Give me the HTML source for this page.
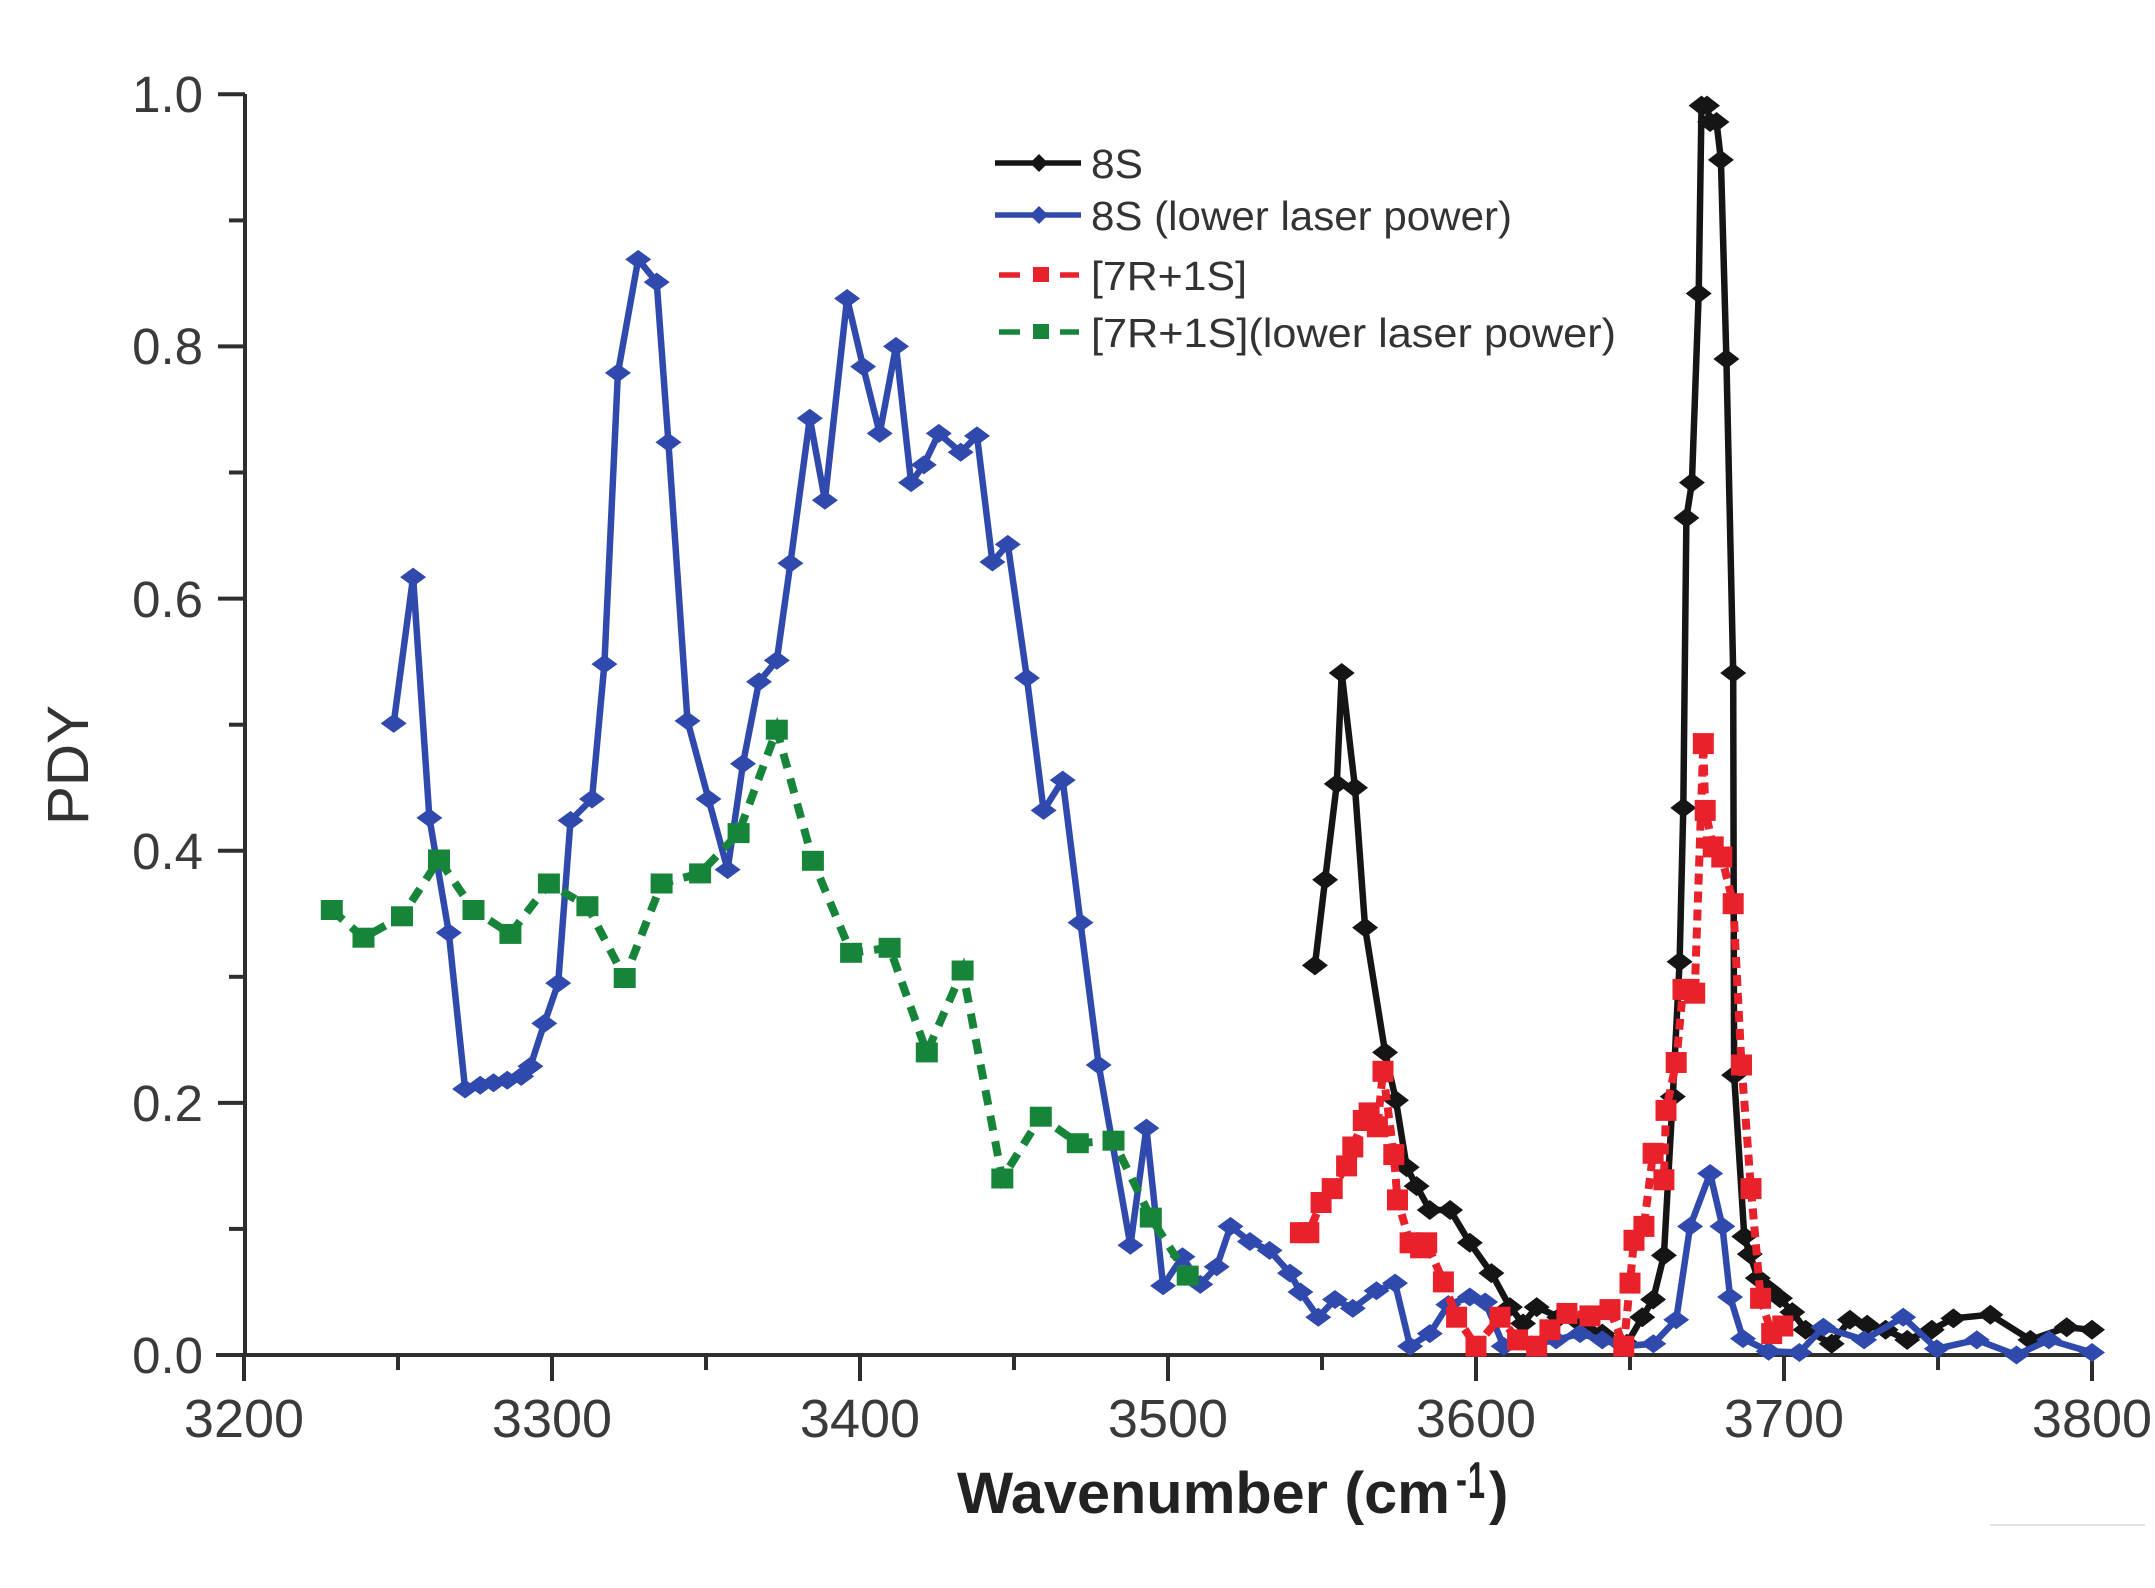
<!DOCTYPE html>
<html><head><meta charset="utf-8"><style>
html,body{margin:0;padding:0;background:#fff;}
svg{display:block;}
text{font-family:"Liberation Sans",Arial,sans-serif;}
</style></head><body>
<svg xmlns="http://www.w3.org/2000/svg" width="2155" height="1588" viewBox="0 0 2155 1588">
<defs>
<marker id="mk" markerUnits="userSpaceOnUse" markerWidth="30" markerHeight="24" refX="15" refY="12" overflow="visible"><path d="M15,2 L28,12 L15,22 L2,12Z" fill="#151515"/></marker>
<marker id="mbl" markerUnits="userSpaceOnUse" markerWidth="28" markerHeight="22" refX="14" refY="11" overflow="visible"><path d="M14,1.5 L27,11 L14,20.5 L1,11Z" fill="#2f4aac"/></marker>
<marker id="mr" markerUnits="userSpaceOnUse" markerWidth="21" markerHeight="21" refX="10.5" refY="10.5" overflow="visible"><rect x="0" y="0" width="21" height="21" fill="#e8212b"/></marker>
<marker id="mg" markerUnits="userSpaceOnUse" markerWidth="22" markerHeight="20" refX="11" refY="10" overflow="visible"><rect x="0" y="0" width="22" height="20" fill="#16853a"/></marker>
</defs>
<rect width="2155" height="1588" fill="#fff"/>

<!-- axes -->
<g stroke="#2e2e2e" stroke-width="4" fill="none">
<line x1="245" y1="94" x2="245" y2="1357"/>
<line x1="216" y1="1355" x2="2094" y2="1355"/>
<line x1="218" y1="94.3" x2="245" y2="94.3"/>
<line x1="218" y1="346.4" x2="245" y2="346.4"/>
<line x1="218" y1="598.6" x2="245" y2="598.6"/>
<line x1="218" y1="850.7" x2="245" y2="850.7"/>
<line x1="218" y1="1102.9" x2="245" y2="1102.9"/>
<line x1="229" y1="220.4" x2="245" y2="220.4"/>
<line x1="229" y1="472.5" x2="245" y2="472.5"/>
<line x1="229" y1="724.7" x2="245" y2="724.7"/>
<line x1="229" y1="976.8" x2="245" y2="976.8"/>
<line x1="229" y1="1228.9" x2="245" y2="1228.9"/>
<line x1="244" y1="1355" x2="244" y2="1381"/>
<line x1="552" y1="1355" x2="552" y2="1381"/>
<line x1="860" y1="1355" x2="860" y2="1381"/>
<line x1="1168" y1="1355" x2="1168" y2="1381"/>
<line x1="1476" y1="1355" x2="1476" y2="1381"/>
<line x1="1784" y1="1355" x2="1784" y2="1381"/>
<line x1="2092" y1="1355" x2="2092" y2="1381"/>
<line x1="398" y1="1355" x2="398" y2="1370"/>
<line x1="706" y1="1355" x2="706" y2="1370"/>
<line x1="1014" y1="1355" x2="1014" y2="1370"/>
<line x1="1322" y1="1355" x2="1322" y2="1370"/>
<line x1="1630" y1="1355" x2="1630" y2="1370"/>
<line x1="1938" y1="1355" x2="1938" y2="1370"/>
</g>

<!-- tick labels -->
<g fill="#3a3a3a" font-size="51" text-anchor="end">
<text x="203" y="112">1.0</text>
<text x="203" y="364">0.8</text>
<text x="203" y="617">0.6</text>
<text x="203" y="869">0.4</text>
<text x="203" y="1121">0.2</text>
<text x="203" y="1373">0.0</text>
</g>
<g fill="#3a3a3a" font-size="54" text-anchor="middle">
<text x="244" y="1437">3200</text>
<text x="552" y="1437">3300</text>
<text x="860" y="1437">3400</text>
<text x="1168" y="1437">3500</text>
<text x="1476" y="1437">3600</text>
<text x="1784" y="1437">3700</text>
<text x="2092" y="1437">3800</text>
</g>

<!-- axis titles -->
<text transform="translate(88,765) rotate(-90)" text-anchor="middle" font-size="58" fill="#333" textLength="120" lengthAdjust="spacingAndGlyphs">PDY</text>
<text x="957" y="1513" font-size="58" font-weight="bold" fill="#222" textLength="493" lengthAdjust="spacingAndGlyphs">Wavenumber (cm</text>
<text x="1456" y="1494" font-size="44" font-weight="bold" fill="#222" textLength="11" lengthAdjust="spacingAndGlyphs">-</text>
<text x="1468" y="1498" font-size="52" font-weight="bold" fill="#222" textLength="17" lengthAdjust="spacingAndGlyphs">1</text>
<text x="1489" y="1513" font-size="58" font-weight="bold" fill="#222">)</text>

<line x1="1990" y1="1525" x2="2145" y2="1525" stroke="#e2e2e2" stroke-width="2"/>

<!-- 8S black -->
<polyline fill="none" stroke="#151515" stroke-width="6.5" stroke-linejoin="round" marker-start="url(#mk)" marker-mid="url(#mk)" marker-end="url(#mk)" points="1314.9,965.4 1325.1,879.7 1336.8,783.9 1341.7,673 1355,787.7 1365.1,927.6 1385.1,1052.4 1395.9,1100.3 1406.7,1167.2 1416.6,1186.1 1429.8,1210 1450.1,1210 1469.8,1242.8 1491.4,1273.1 1509.9,1307.1 1523.1,1323.5 1536.7,1307.1 1559.2,1317.2 1580.7,1323.5 1602.3,1333.6 1626.9,1343.7 1642.3,1317.2 1653.1,1299.5 1663.9,1255.4 1672.8,1096.6 1679.6,961.7 1683.3,807.9 1686.4,517.9 1691.9,482.6 1698.7,293.5 1701.5,105.6 1707,105.6 1710.1,122 1716.5,122 1720.9,159.9 1726.4,359 1733.2,673 1734.1,1075.1 1744.3,1236.5 1749.8,1254.1 1757.8,1278.1 1768.9,1289.4 1780,1298.3 1792.3,1312.1 1805.6,1329.8 1831.7,1343.7 1849.9,1319.7 1867.2,1324.7 1885.6,1329.8 1907.2,1339.9 1931.8,1329.8 1953.4,1318.4 1990.4,1314.7 2030.4,1339.9 2066.7,1327.3 2092,1329.8"/>

<!-- 8S lower power blue -->
<polyline fill="none" stroke="#2f4aac" stroke-width="6.5" stroke-linejoin="round" marker-start="url(#mbl)" marker-mid="url(#mbl)" marker-end="url(#mbl)" points="393.7,723.4 413.1,577.1 429.4,817.9 448.8,932.7 465.1,1089 480.2,1085.2 493.5,1082.7 507.3,1080.2 521.2,1076.4 530.4,1066.3 544.3,1023.4 558.2,983.1 570.5,820.5 592,799 604.4,664.1 617.9,372.9 638.2,259.4 656.7,282.1 668.4,442.3 687.5,720.9 708.5,799 727.6,869.6 743,763.7 759,681.8 776.8,660.4 790.4,563.3 809.8,418.3 824.9,500.2 847.1,298.5 863.1,366.6 879.7,433.4 896,346.4 911.1,482.6 923.8,464.9 938.8,433.4 960.7,452.3 977,435.9 992.4,562 1007.8,544.4 1026.9,678 1043.6,810.4 1062.7,780.1 1080.5,922.6 1098.7,1065 1130.4,1245.3 1146.4,1128.1 1163.1,1285.7 1182.5,1256.7 1200.3,1284.4 1216.7,1266.8 1230.5,1226.4 1249.9,1241.5 1269.6,1250.4 1290,1273.1 1300.4,1292 1318.3,1317.2 1335,1299.5 1352.8,1308.4 1376.5,1290.7 1395,1283.1 1410.1,1346.2 1429.8,1333.6 1448.3,1304.6 1469.8,1297 1485.2,1302 1503.7,1346.2 1531.4,1344.9 1556.1,1339.9 1580.1,1333.6 1602.3,1339.9 1623.8,1346.2 1653.4,1343.7 1676.2,1319.7 1690.1,1226.4 1710.1,1173.5 1722.4,1226.4 1730.1,1297 1743,1338.6 1768.6,1351.2 1799.4,1352.5 1823.4,1327.3 1864.1,1339.9 1903.2,1317.2 1936.8,1348.7 1976.8,1339.9 2016.5,1355 2048.9,1339.9 2092,1352.5"/>

<!-- [7R+1S] red -->
<polyline fill="none" stroke="#e8212b" stroke-width="8" stroke-dasharray="11 7" marker-start="url(#mr)" marker-mid="url(#mr)" marker-end="url(#mr)" points="1300.4,1232.7 1308.8,1232.7 1321.1,1202.5 1332.2,1188.6 1346.6,1165.9 1352.8,1147 1363.3,1120.5 1369.1,1112.9 1377.4,1126.8 1383,1071.3 1393.8,1154.6 1397.5,1199.9 1410.1,1242.8 1420.6,1247.8 1426.7,1242.8 1443.4,1281.9 1456.6,1317.2 1476,1346.2 1500,1317.2 1517.6,1339.9 1536.7,1346.2 1549.9,1329.8 1566.9,1313.4 1590,1315.9 1610,1309.6 1623.8,1346.2 1630,1283.1 1634,1240.3 1643.9,1226.4 1653.1,1153.3 1663.9,1179.8 1666,1110.4 1676.2,1062.5 1683,989.4 1689.1,989.4 1694.7,993.2 1703.3,743.6 1705.2,810.4 1713.2,846.9 1721.8,857 1733.2,903.7 1741.5,1065 1751,1188.6 1760.6,1298.3 1771.7,1333.6 1782.8,1326"/>

<!-- [7R+1S] lower power green -->
<polyline fill="none" stroke="#16853a" stroke-width="8" stroke-dasharray="15 11" marker-start="url(#mg)" marker-mid="url(#mg)" marker-end="url(#mg)" points="331.8,910 363.5,937.7 402,916.3 439,859.5 473.5,910 510.4,933.9 548.9,883.5 587.4,906.2 624.7,978 661.6,883.5 700.1,873.4 738.6,833.1 776.8,729.7 812.9,860.8 851.1,952.8 889.6,947.8 926.8,1052.4 962.6,970.5 1002.3,1178.5 1040.8,1116.7 1077.8,1143.2 1113.5,1140.7 1150.8,1217.6 1187.7,1275.6"/>

<!-- legend -->
<line x1="995" y1="163" x2="1081" y2="163" stroke="#151515" stroke-width="5.5"/>
<path d="M1039,154 L1048,163 L1039,172 L1030,163Z" fill="#151515"/>
<line x1="995" y1="215" x2="1081" y2="215" stroke="#2f4aac" stroke-width="5.5"/>
<path d="M1039,206 L1048,215 L1039,224 L1030,215Z" fill="#2f4aac"/>
<g stroke="#e8212b" stroke-width="5.5"><line x1="999" y1="275" x2="1020" y2="275"/><line x1="1060" y1="275" x2="1079" y2="275"/></g>
<rect x="1033" y="267" width="16" height="15" fill="#e8212b"/>
<g stroke="#16853a" stroke-width="5.5"><line x1="999" y1="332" x2="1020" y2="332"/><line x1="1060" y1="332" x2="1079" y2="332"/></g>
<rect x="1033" y="324" width="16" height="15" fill="#16853a"/>
<g fill="#333" font-size="41">
<text x="1091" y="178" textLength="52" lengthAdjust="spacingAndGlyphs">8S</text>
<text x="1091" y="230" textLength="421" lengthAdjust="spacingAndGlyphs">8S (lower laser power)</text>
<text x="1091" y="290" textLength="156" lengthAdjust="spacingAndGlyphs">[7R+1S]</text>
<text x="1091" y="347" textLength="525" lengthAdjust="spacingAndGlyphs">[7R+1S](lower laser power)</text>
</g>
</svg>
</body></html>
